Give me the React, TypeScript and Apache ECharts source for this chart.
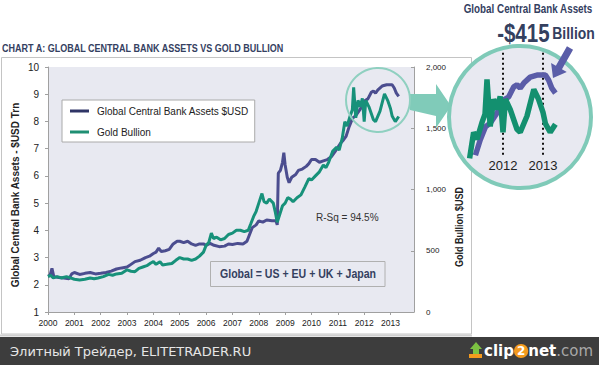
import React, { useEffect, useRef } from "react";
import * as echarts from "echarts";

// ---- data ----
const bankDates = [
  2000.0, 2000.08, 2000.15, 2000.22, 2000.4, 2000.6, 2000.8, 2000.9, 2001.0, 2001.2, 2001.4, 2001.6,
  2001.8, 2002.0, 2002.2, 2002.4, 2002.6, 2002.8, 2003.0, 2003.15, 2003.3, 2003.5, 2003.7, 2003.85,
  2004.0, 2004.1, 2004.2, 2004.3, 2004.45, 2004.6, 2004.75, 2004.9, 2005.0, 2005.15, 2005.3, 2005.45,
  2005.6, 2005.75, 2005.9, 2006.0, 2006.15, 2006.3, 2006.5, 2006.7, 2006.85, 2007.0, 2007.2, 2007.4,
  2007.55, 2007.65, 2007.75, 2007.9, 2008.0, 2008.15, 2008.3, 2008.5, 2008.65, 2008.7, 2008.74, 2008.82,
  2008.9, 2008.95, 2009.0, 2009.08, 2009.15, 2009.25, 2009.4, 2009.5, 2009.65, 2009.8, 2009.9, 2010.0,
  2010.15, 2010.3, 2010.45, 2010.6, 2010.75, 2010.9, 2011.0, 2011.1, 2011.2, 2011.31, 2011.43, 2011.56,
  2011.68, 2011.85, 2012.02, 2012.14, 2012.27, 2012.35, 2012.43, 2012.52, 2012.68, 2012.85, 2013.06,
  2013.14, 2013.22, 2013.31,
];
const bankAssets = [
  2.32, 2.35, 2.6, 2.3, 2.27, 2.25, 2.22, 2.4, 2.45, 2.38, 2.42, 2.45,
  2.4, 2.42, 2.45, 2.5, 2.58, 2.62, 2.65, 2.75, 2.85, 2.9, 3.0, 3.05,
  3.15, 3.2, 3.35, 3.22, 3.25, 3.3, 3.5, 3.6, 3.6, 3.55, 3.6, 3.5,
  3.45, 3.5, 3.5, 3.45, 3.52, 3.45, 3.4, 3.42, 3.5, 3.48, 3.52, 3.5,
  3.6, 3.85, 4.1, 4.2, 4.35, 4.3, 4.38, 4.35, 4.35, 4.2, 6.1, 6.2,
  6.5, 6.85, 6.4, 5.95, 5.75, 5.95, 6.05, 6.2, 6.25, 6.35, 6.45, 6.6,
  6.6, 6.5, 6.55, 6.6, 6.7, 6.9, 7.05, 7.2, 7.3, 7.45, 7.81, 8.12,
  8.21, 8.45, 8.76, 8.83, 9.07, 9.12, 9.04, 9.16, 9.3, 9.35, 9.35,
  9.23, 9.04, 8.92,
];
const goldDates = [
  2000.0, 2000.1, 2000.2, 2000.35, 2000.5, 2000.7, 2000.85, 2001.0, 2001.2, 2001.4, 2001.6, 2001.75,
  2001.9, 2002.1, 2002.3, 2002.45, 2002.6, 2002.8, 2003.0, 2003.15, 2003.3, 2003.45, 2003.6, 2003.75,
  2003.9, 2004.0, 2004.1, 2004.25, 2004.35, 2004.5, 2004.7, 2004.85, 2005.0, 2005.15, 2005.3, 2005.45,
  2005.6, 2005.75, 2005.9, 2006.0, 2006.1, 2006.2, 2006.28, 2006.4, 2006.55, 2006.7, 2006.85, 2007.0,
  2007.15, 2007.3, 2007.45, 2007.6, 2007.7, 2007.8, 2007.9, 2008.0, 2008.12, 2008.2, 2008.3, 2008.4,
  2008.55, 2008.62, 2008.7, 2008.8, 2008.9, 2009.0, 2009.1, 2009.2, 2009.3, 2009.45, 2009.6, 2009.75,
  2009.9, 2010.0, 2010.15, 2010.3, 2010.45, 2010.55, 2010.65, 2010.8, 2010.95, 2011.05, 2011.165, 2011.265,
  2011.35, 2011.475, 2011.55, 2011.6, 2011.68, 2011.765, 2011.85, 2011.93, 2012.0, 2012.06, 2012.18, 2012.35,
  2012.43, 2012.6, 2012.77, 2012.89, 2013.0, 2013.06, 2013.18, 2013.31,
];
const goldPrice = [
  289, 300, 278, 289, 278, 289, 278, 267, 262, 267, 278, 271,
  278, 289, 307, 300, 311, 316, 344, 333, 329, 356, 367, 378,
  400, 411, 389, 411, 384, 389, 396, 422, 444, 433, 433, 422,
  433, 456, 489, 544, 567, 644, 600, 611, 589, 600, 633, 644,
  667, 667, 656, 667, 722, 778, 822, 889, 967, 900, 889, 922,
  889, 822, 733, 800, 867, 889, 933, 922, 900, 933, 956, 1022,
  1089, 1078, 1111, 1144, 1200, 1178, 1222, 1311, 1344, 1322, 1417, 1554,
  1517, 1606, 1650, 1833, 1585, 1728, 1675, 1743, 1554, 1728, 1675, 1570,
  1554, 1640, 1780, 1728, 1659, 1600, 1554, 1596,
];
const zoomYearMarks = [2012, 2013];

const SANS = "'Liberation Sans', Arial, sans-serif";
const NAVY = "#34405f";
const BLUE = "#4b4d8f";
const GREEN = "#17917a";
const PLOT_BG = "#e8e9f1";
const TEAL = "#80cbb9";
const NARROW_SCALE = 0.82;

function txt(x: number, y: number, text: string, font: string, fill: string, align = "left", extra: any = {}) {
  return {
    type: "text",
    x,
    y,
    silent: true,
    z: 20,
    ...extra,
    style: { text, font, fill, textAlign: align, align, textVerticalAlign: "middle", verticalAlign: "middle" },
  };
}

export default function App() {
  const ref = useRef<HTMLDivElement>(null);
  useEffect(() => {
    const chart = echarts.init(ref.current!, null, { renderer: "svg" });
    const bank = bankDates.map((d, i) => [d, bankAssets[i]]);
    const gold = goldDates.map((d, i) => [d, goldPrice[i]]);
    const bankZoom = bank.filter((p) => p[0] >= 2011.3);
    const goldZoom = gold.filter((p) => p[0] >= 2011.16);

    // blue arrow geometry
    const tip = [553, 78];
    const start = [570, 48];
    const dx = tip[0] - start[0], dy = tip[1] - start[1];
    const L = Math.hypot(dx, dy);
    const ux = dx / L, uy = dy / L;
    const px = -uy, py = ux;
    const base = [tip[0] - 12 * ux, tip[1] - 12 * uy];
    const sw = 3.5, hw = 9;
    const arrowPts = [
      [start[0] + px * sw, start[1] + py * sw],
      [base[0] + px * sw, base[1] + py * sw],
      [base[0] + px * hw, base[1] + py * hw],
      tip,
      [base[0] - px * hw, base[1] - py * hw],
      [base[0] - px * sw, base[1] - py * sw],
      [start[0] - px * sw, start[1] - py * sw],
    ];

    const option: any = {
      animation: false,
      backgroundColor: "#ffffff",
      textStyle: { fontFamily: SANS },
      legend: {
        orient: "vertical",
        left: 62,
        top: 100,
        padding: [4, 6, 3, 8],
        itemGap: 7,
        itemWidth: 19,
        itemHeight: 3,
        icon: "rect",
        backgroundColor: "#ffffff",
        borderColor: "#aaaaaa",
        borderWidth: 1,
        textStyle: { fontFamily: SANS, fontSize: 10, color: "#222", lineHeight: 14, padding: [0, 0, 0, 3] },
        data: [
          { name: "Global Central Bank Assets $USD", itemStyle: { color: "#2f3566" } },
          { name: "Gold Bullion", itemStyle: { color: "#1f8f73" } },
        ],
      },
      grid: [
        { left: 48, top: 67, width: 366, height: 245, show: true, backgroundColor: PLOT_BG, borderWidth: 0 },
        { left: 463, top: 47.6, width: 120, height: 126.6, show: false },
      ],
      xAxis: [
        {
          type: "value",
          gridIndex: 0,
          min: 2000,
          max: 2013.89,
          interval: 1,
          splitLine: { show: false },
          axisLine: { show: true, lineStyle: { color: "#a0a0a0" } },
          axisTick: { show: true, length: 3, lineStyle: { color: "#a0a0a0" } },
          axisLabel: {
            showMaxLabel: false,
            margin: 6,
            fontFamily: SANS,
            fontSize: 8.5,
            color: "#222",
            formatter: (v: number) => (Math.abs(v - Math.round(v)) < 1e-6 ? String(Math.round(v)) : ""),
          },
        },
        { type: "value", gridIndex: 1, min: 2011, max: 2014, show: false },
      ],
      yAxis: [
        {
          type: "value",
          gridIndex: 0,
          min: 1,
          max: 10,
          interval: 1,
          splitLine: { show: false },
          axisLine: { show: true, lineStyle: { color: "#a0a0a0" } },
          axisTick: { show: true, length: 3, lineStyle: { color: "#a0a0a0" } },
          axisLabel: { margin: 9, fontFamily: SANS, fontSize: 10, color: "#222" },
        },
        {
          type: "value",
          gridIndex: 0,
          position: "right",
          min: 0,
          max: 2000,
          interval: 500,
          splitLine: { show: false },
          axisLine: { show: true, lineStyle: { color: "#a0a0a0" } },
          axisTick: { show: true, inside: true, length: 3, lineStyle: { color: "#a0a0a0" } },
          axisLabel: {
            margin: 12,
            fontFamily: SANS,
            fontSize: 8,
            color: "#222",
            formatter: (v: number) => v.toLocaleString("en-US"),
          },
        },
        { type: "value", gridIndex: 1, min: 7, max: 10, show: false },
        { type: "value", gridIndex: 1, min: 4000 / 3, max: 2000, show: false },
      ],
      series: [
        {
          name: "Global Central Bank Assets $USD",
          type: "line",
          xAxisIndex: 0,
          yAxisIndex: 0,
          data: bank,
          showSymbol: false,
          lineStyle: { width: 3, color: BLUE },
          itemStyle: { color: BLUE },
          z: 3,
        },
        {
          name: "Gold Bullion",
          type: "line",
          xAxisIndex: 0,
          yAxisIndex: 1,
          data: gold,
          showSymbol: false,
          lineStyle: { width: 3, color: GREEN },
          itemStyle: { color: GREEN },
          z: 4,
        },
        {
          type: "line",
          xAxisIndex: 1,
          yAxisIndex: 2,
          data: bankZoom,
          showSymbol: false,
          lineStyle: { width: 5.5, color: "#5a5ca8" },
          z: 5,
          silent: true,
          markLine: {
            silent: true,
            symbol: "none",
            lineStyle: { type: [2, 3], color: "#111", width: 2 },
            label: {
              show: true,
              position: "start",
              distance: 4,
              formatter: "{b}",
              fontFamily: SANS,
              fontSize: 13,
              color: "#222",
            },
            data: zoomYearMarks.map((yr) => [
              { name: String(yr), coord: [yr, 7.46] },
              { coord: [yr, 9.94] },
            ]),
          },
        },
        {
          type: "line",
          xAxisIndex: 1,
          yAxisIndex: 3,
          data: goldZoom,
          showSymbol: false,
          lineStyle: { width: 5.5, color: "#13906f" },
          z: 6,
          silent: true,
        },
      ],
      graphic: [
        { type: "rect", silent: true, z: 0, shape: { x: 1.5, y: 57.5, width: 470, height: 276.5 }, style: { fill: "none", stroke: "#c4c4c4", lineWidth: 1 } },
        txt(2, 48, "CHART A: GLOBAL CENTRAL BANK ASSETS VS GOLD BULLION", `bold 11px ${SANS}`, NAVY, "left", { scaleX: NARROW_SCALE }),
        txt(15, 195, "Global Central Bank Assets - $USD Trn", `bold 10px ${SANS}`, "#222", "center", { rotation: Math.PI / 2 }),
        txt(459, 227, "Gold Bullion $USD", `bold 10px ${SANS}`, "#222", "center", { rotation: Math.PI / 2, scaleX: 0.9 }),
        txt(316, 217, "R-Sq = 94.5%", `10px ${SANS}`, "#333"),
        { type: "rect", silent: true, z: 15, shape: { x: 210.5, y: 261.5, width: 174.5, height: 25 }, style: { fill: PLOT_BG, stroke: "#b0b0b0", lineWidth: 1 } },
        txt(298, 274, "Global = US + EU + UK + Japan", `bold 12px ${SANS}`, NAVY, "center", { scaleX: 0.88 }),
        { type: "circle", silent: true, z: 10, shape: { cx: 378, cy: 100, r: 32 }, style: { fill: "none", stroke: "#8fd0c0", lineWidth: 2 } },
        {
          type: "polygon",
          silent: true,
          z: 1,
          shape: { points: [[410, 94], [436, 94], [436, 84], [451, 106], [436, 128], [436, 116], [410, 110]] },
          style: { fill: TEAL },
        },
        { type: "circle", silent: true, z: 1, shape: { cx: 520, cy: 117, r: 71 }, style: { fill: PLOT_BG, stroke: "#7fcab8", lineWidth: 4 } },
        { type: "polygon", silent: true, z: 12, shape: { points: arrowPts }, style: { fill: "#5a5da8" } },
        txt(528, 9, "Global Central Bank Assets", `bold 12px ${SANS}`, NAVY, "center", { scaleX: NARROW_SCALE }),
        {
          type: "text",
          x: 546,
          y: 33,
          z: 20,
          silent: true,
          scaleX: NARROW_SCALE,
          style: {
            text: "{a|-$415} {b|Billion}",
            textAlign: "center",
            align: "center",
            textVerticalAlign: "middle",
            verticalAlign: "middle",
            rich: {
              a: { font: `bold 25px ${SANS}`, fill: NAVY, color: NAVY },
              b: { font: `bold 17px ${SANS}`, fill: NAVY, color: NAVY },
            },
          },
        },
        { type: "rect", silent: true, z: 0, shape: { x: 0, y: 337, width: 599, height: 28 }, style: { fill: "#3d3d3d" } },
        { type: "line", silent: true, z: 0, shape: { x1: 0, y1: 335.5, x2: 472, y2: 335.5 }, style: { stroke: "#cfcfcf", lineWidth: 2 } },
        txt(10, 351, "Элитный Трейдер, ELITETRADER.RU", `13px 'DejaVu Sans', sans-serif`, "#e6e6e6"),
        { type: "polygon", silent: true, z: 20, shape: { points: [[476, 342], [482, 349], [479, 349], [479, 354], [473, 354], [473, 349], [470, 349]] }, style: { fill: "#7cc242" } },
        { type: "rect", silent: true, z: 20, shape: { x: 469, y: 354, width: 13, height: 4 }, style: { fill: "#f39a1e" } },
        {
          type: "text",
          x: 484,
          y: 351,
          z: 20,
          silent: true,
          style: {
            text: "{a|clip}{b|2}{a|net}{c|.com}",
            textVerticalAlign: "middle",
            verticalAlign: "middle",
            rich: {
              a: { font: `bold 15px 'DejaVu Sans', sans-serif`, fill: "#ffffff", color: "#ffffff" },
              b: { font: `bold 12px 'DejaVu Sans', sans-serif`, fill: "#ffffff", color: "#ffffff", backgroundColor: "#f39a1e", borderRadius: 7, padding: [1, 3, 1, 3] },
              c: { font: `15px 'DejaVu Sans', sans-serif`, fill: "#a8a8a8", color: "#a8a8a8" },
            },
          },
        },
      ],
    };
    chart.setOption(option);
    return () => chart.dispose();
  }, []);
  return <div ref={ref} style={{ position: "fixed", left: 0, top: 0, width: 599, height: 365 }} />;
}
